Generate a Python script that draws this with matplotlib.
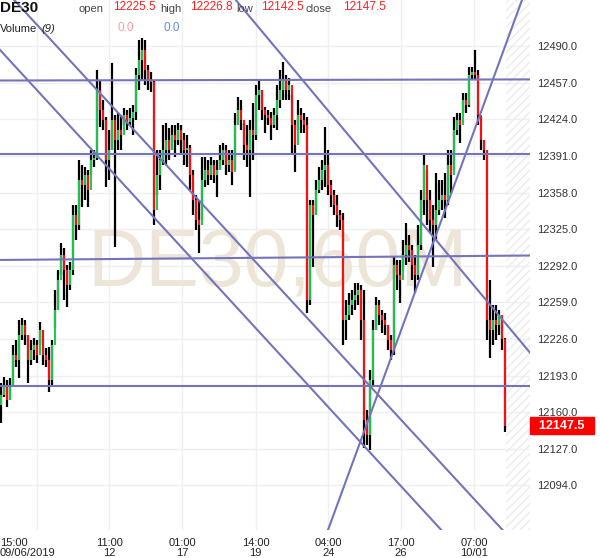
import matplotlib
matplotlib.use('Agg')
import numpy as np
import matplotlib.pyplot as plt
import matplotlib.transforms as mtransforms

# --- data (hourly DE30 candles) ---
first_open = 12166.0
closes = [
    12175.4, 12184.4, 12170.9, 12184.4, 12211.5, 12207.0, 12229.5, 12238.5, 12229.5, 12207.0,
    12216.0, 12220.5, 12211.5, 12234.0, 12211.5, 12207.0, 12189.0, 12220.5, 12252.1, 12279.1,
    12301.7, 12288.1, 12274.6, 12288.1, 12337.7, 12328.7, 12369.3, 12364.8, 12373.8, 12360.3,
    12387.3, 12389.1, 12450.4, 12432.4, 12423.4, 12387.3, 12396.3, 12423.4, 12405.4, 12414.4,
    12409.9, 12427.9, 12421.6, 12425.2, 12430.6, 12464.0, 12477.5, 12486.5, 12468.5, 12459.5,
    12457.7, 12342.3, 12373.8, 12387.3, 12396.3, 12405.4, 12396.3, 12409.9, 12405.4, 12414.4,
    12405.4, 12396.3, 12398.1, 12373.8, 12351.3, 12333.2, 12328.7, 12369.3, 12378.3, 12373.8,
    12382.8, 12373.8, 12378.3, 12387.3, 12396.3, 12382.8, 12387.3, 12376.5, 12418.9, 12432.4,
    12423.4, 12400.9, 12396.3, 12414.4, 12409.9, 12445.9, 12450.4, 12432.4, 12427.9, 12425.2,
    12418.9, 12427.9, 12441.4, 12450.4, 12459.5, 12450.4, 12455.0, 12418.9, 12400.9, 12427.9,
    12423.4, 12418.9, 12261.1, 12346.8, 12337.7, 12360.3, 12369.3, 12378.3, 12382.8, 12364.8,
    12355.8, 12346.8, 12337.7, 12333.2, 12243.1, 12247.6, 12256.6, 12261.1, 12265.6, 12270.1,
    12243.1, 12152.9, 12139.4, 12189.0, 12234.0, 12256.6, 12247.6, 12243.1, 12238.5, 12225.0,
    12216.0, 12292.6, 12283.6, 12279.1, 12301.7, 12310.7, 12306.2, 12292.6, 12283.6, 12310.7,
    12351.3, 12382.8, 12351.3, 12333.2, 12328.7, 12342.3, 12351.3, 12355.8, 12351.3, 12382.8,
    12373.8, 12414.4, 12423.4, 12418.9, 12441.4, 12436.9, 12464.0, 12466.7, 12464.0, 12427.9,
    12405.4, 12396.3, 12243.1, 12234.0, 12243.1, 12238.5, 12247.6, 12225.5, 12147.5,
]
highs = [
    12186.2, 12191.7, 12189.0, 12190.8, 12220.5, 12225.0, 12243.1, 12244.9, 12243.1, 12229.5,
    12225.0, 12226.8, 12225.0, 12241.3, 12234.0, 12217.8, 12218.7, 12225.0, 12270.1, 12288.1,
    12312.5, 12308.0, 12292.6, 12295.4, 12346.8, 12346.8, 12387.3, 12382.8, 12381.0, 12378.3,
    12396.3, 12396.3, 12468.5, 12459.5, 12441.4, 12426.1, 12414.4, 12474.8, 12427.9, 12429.7,
    12427.9, 12434.2, 12432.4, 12434.2, 12436.9, 12470.3, 12495.5, 12497.3, 12495.5, 12473.0,
    12466.7, 12459.5, 12396.3, 12396.3, 12418.9, 12420.7, 12416.2, 12418.9, 12418.9, 12420.7,
    12418.9, 12411.7, 12409.9, 12400.9, 12378.3, 12355.8, 12351.3, 12390.0, 12390.0, 12387.3,
    12390.0, 12387.3, 12387.3, 12400.9, 12402.7, 12400.9, 12396.3, 12396.3, 12429.7, 12444.1,
    12441.4, 12420.7, 12418.9, 12423.4, 12438.7, 12455.0, 12459.5, 12450.4, 12435.1, 12432.4,
    12430.6, 12434.2, 12455.0, 12468.5, 12475.7, 12464.0, 12461.3, 12445.9, 12423.4, 12441.4,
    12434.2, 12429.7, 12426.1, 12351.3, 12351.3, 12369.3, 12381.0, 12387.3, 12417.1, 12396.3,
    12369.3, 12360.3, 12355.8, 12342.3, 12339.5, 12261.1, 12267.4, 12270.1, 12276.4, 12276.4,
    12274.6, 12270.1, 12161.9, 12198.0, 12243.1, 12263.8, 12261.1, 12252.1, 12249.4, 12238.5,
    12229.5, 12299.9, 12297.2, 12297.2, 12315.2, 12330.5, 12319.7, 12310.7, 12301.7, 12328.7,
    12360.3, 12391.8, 12378.3, 12360.3, 12346.8, 12375.6, 12369.3, 12369.3, 12375.6, 12396.3,
    12396.3, 12426.1, 12429.7, 12429.7, 12447.7, 12447.7, 12471.2, 12471.2, 12486.5, 12468.5,
    12426.1, 12405.4, 12396.3, 12279.1, 12256.6, 12256.6, 12252.1, 12244.9, 12226.8,
]
lows = [
    12150.2, 12173.6, 12164.6, 12170.9, 12184.4, 12200.7, 12190.8, 12225.0, 12220.5, 12186.2,
    12202.5, 12207.0, 12204.3, 12220.5, 12202.5, 12200.7, 12178.1, 12184.4, 12235.8, 12252.1,
    12283.6, 12261.1, 12254.8, 12270.1, 12283.6, 12315.2, 12324.2, 12345.0, 12351.3, 12345.0,
    12373.8, 12381.0, 12387.3, 12417.1, 12414.4, 12363.0, 12369.3, 12396.3, 12308.9, 12396.3,
    12396.3, 12418.9, 12414.4, 12418.9, 12409.9, 12423.4, 12450.4, 12459.5, 12455.0, 12450.4,
    12448.6, 12328.7, 12355.8, 12360.3, 12382.8, 12382.8, 12387.3, 12396.3, 12390.0, 12400.9,
    12391.8, 12382.8, 12381.0, 12360.3, 12337.7, 12324.2, 12303.5, 12333.2, 12363.0, 12364.8,
    12369.3, 12366.6, 12354.0, 12378.3, 12382.8, 12373.8, 12376.5, 12364.8, 12378.3, 12418.9,
    12414.4, 12387.3, 12381.0, 12354.0, 12387.3, 12405.4, 12432.4, 12423.4, 12411.7, 12418.9,
    12405.4, 12416.2, 12414.4, 12434.2, 12441.4, 12441.4, 12441.4, 12391.8, 12376.5, 12414.4,
    12411.7, 12411.7, 12249.4, 12256.6, 12290.8, 12337.7, 12357.6, 12360.3, 12363.0, 12355.8,
    12345.0, 12337.7, 12326.9, 12324.2, 12220.5, 12225.0, 12243.1, 12247.6, 12252.1, 12256.6,
    12225.0, 12127.6, 12130.4, 12125.8, 12184.4, 12234.0, 12238.5, 12231.3, 12229.5, 12216.0,
    12207.0, 12211.5, 12270.1, 12258.4, 12288.1, 12292.6, 12295.4, 12279.1, 12267.4, 12279.1,
    12306.2, 12337.7, 12328.7, 12321.5, 12290.8, 12315.2, 12337.7, 12342.3, 12335.0, 12346.8,
    12357.6, 12378.3, 12409.9, 12402.7, 12429.7, 12429.7, 12435.1, 12459.5, 12459.5, 12418.9,
    12396.3, 12387.3, 12225.0, 12208.8, 12220.5, 12225.0, 12229.5, 12216.0, 12142.5,
]

tick_pos = [12.0, 36.27, 60.6, 85.07, 109.27, 133.5, 157.93]
tick_labels = ["15:00\n09/06/2019", "11:00\n12", "01:00\n17", "14:00\n19",
               "04:00\n24", "17:00\n26", "07:00\n10/01"]
price_ticks = [12094, 12127, 12160, 12193, 12226, 12259, 12292, 12325,
               12358, 12391, 12424, 12457, 12490]

# trend lines: (bar index, price) pairs
hlines = [((0, 12459.0), (176.5, 12460.0)),
          ((0, 12392.7), (176.5, 12392.7)),
          ((0, 12297.2), (176.5, 12301.2)),
          ((0, 12183.8), (176.5, 12183.8))]
slanted = [((33.2, 12388.4), (133.2, 12094.1)),
           ((33.2, 12447.5), (133.2, 12154.0)),
           ((99.8, 12462.3), (166.5, 12246.0)),
           ((116.5, 12107.9), (166.5, 12477.4))]

last_o, last_h, last_l, last_c = 12225.5, 12226.8, 12142.5, 12147.5

# --- plot ---
plt.rcParams['font.family'] = ['Liberation Sans', 'DejaVu Sans']
W, H = 600, 558
fig = plt.figure(figsize=(W / 100, H / 100), dpi=100)
ax = fig.add_axes([0, 28 / H, 530 / W, 530 / H])

closes = np.array(closes)
opens = np.concatenate([[first_open], closes[:-1]])
x = np.arange(len(closes))
up = closes >= opens
LINE = '#7474BC'
GREEN = '#1EC850'
RED = '#FF1010'

ax.set_xlim(-1 / 6, 176.5)
ax.set_ylim(12053.7, 12531.6)

for s in ax.spines.values():
    s.set_visible(False)
ax.set_xticks(tick_pos)
ax.set_xticklabels(tick_labels, fontsize=8, color='#222222', linespacing=1.0)
ax.set_yticks(price_ticks)
ax.set_yticklabels([f"{p:.1f}" for p in price_ticks], fontsize=8, color='#333333')
ax.yaxis.tick_right()
ax.tick_params(axis='both', length=0)
ax.tick_params(axis='y', pad=5)
ax.tick_params(axis='x', pad=5.5)
ax.grid(True, color='#EFEFEF', lw=1.0, zorder=0)
ax.set_axisbelow(True)

first = ax.get_xticklabels()[0]
first.set_ha('left')
first.set_transform(first.get_transform()
                    + mtransforms.ScaledTranslation(-36.5 / 100, 0, fig.dpi_scale_trans))

# watermark
ax.text(0.5245, 0.4585, "DE30,60M", transform=ax.transAxes, ha='center', va='baseline',
        fontsize=58, color='#ECE5D8', zorder=1)

# future area
ax.axvspan(168.4, 176.5, facecolor='none', edgecolor='#ECECEC', hatch='////', lw=0, zorder=1)

# candles
ax.vlines(x, lows, highs, color='black', lw=1.6, zorder=3)
ax.vlines(x, opens, closes, color=np.where(up, GREEN, RED), lw=1.4, zorder=4)

# trend lines
for p1, p2 in hlines + slanted:
    ax.axline(p1, p2, color=LINE, lw=1.5, zorder=5)

# current price tag
ax.text(1.004, last_c, f"  {last_c:.1f}  ", transform=ax.get_yaxis_transform(),
        ha='left', va='center', fontsize=9, fontweight='bold', color='white',
        bbox=dict(boxstyle='square,pad=0.2', fc='#FF0000', ec='#FF0000'), zorder=6,
        clip_on=False)

# header
def ftext(px, py, s, **kw):
    fig.text(px / W, 1 - py / H, s, va='center', **kw)

ftext(0, 8, "DE30", fontsize=11, fontweight='bold', color='#111111')
ftext(79, 9, "open", fontsize=8, color='#444444')
ftext(113, 7, f"{last_o:.1f}", fontsize=8.5, color='#FF2020')
ftext(160, 9, "high", fontsize=8, color='#444444')
ftext(190, 7, f"{last_h:.1f}", fontsize=8.5, color='#FF2020')
ftext(236, 9, "low", fontsize=8, color='#444444')
ftext(261, 7, f"{last_l:.1f}", fontsize=8.5, color='#FF2020')
ftext(306, 9, "close", fontsize=8, color='#444444')
ftext(343, 7, f"{last_c:.1f}", fontsize=8.5, color='#FF2020')
ftext(0, 29, "Volume", fontsize=8, color='#222222')
ftext(41, 29, "(9)", fontsize=8, color='#222222', style='italic')
ftext(117, 28, "0.0", fontsize=8.5, color='#FF9A9A')
ftext(163, 28, "0.0", fontsize=8.5, color='#5B8BE0')

fig.savefig("out.png", dpi=100)
